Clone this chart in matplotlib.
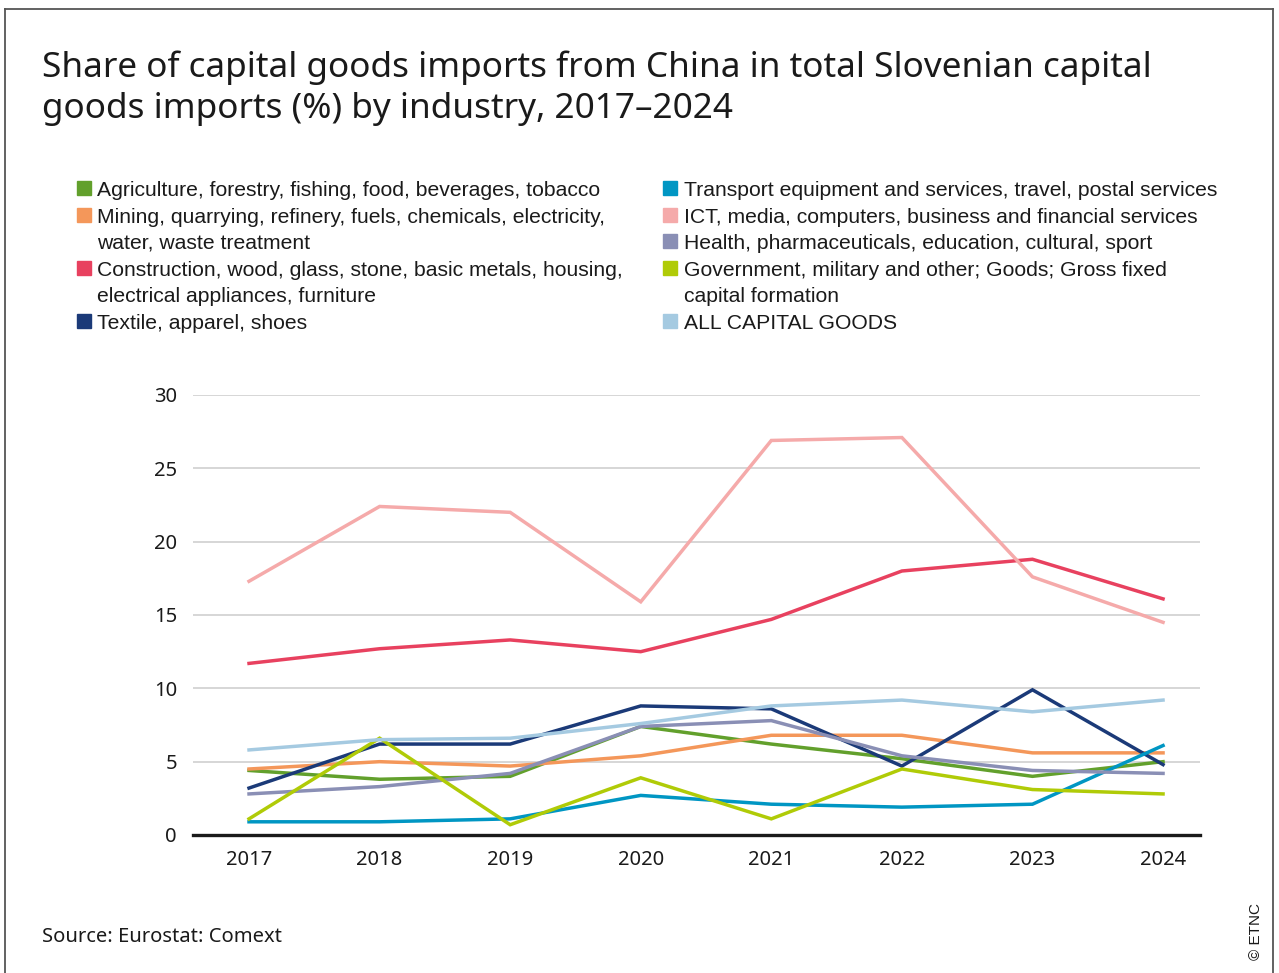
import matplotlib.pyplot as plt
from matplotlib.lines import Line2D
from matplotlib.patches import Rectangle

# share of capital goods imports from China, % of total Slovenian imports
years = [2017, 2018, 2019, 2020, 2021, 2022, 2023, 2024]
agriculture = [4.4, 3.8, 4.0, 7.4, 6.2, 5.2, 4.0, 5.0]
mining = [4.5, 5.0, 4.7, 5.4, 6.8, 6.8, 5.6, 5.6]
construction = [11.7, 12.7, 13.3, 12.5, 14.7, 18.0, 18.8, 16.1]
textile = [3.2, 6.2, 6.2, 8.8, 8.6, 4.7, 9.9, 4.8]
transport = [0.9, 0.9, 1.1, 2.7, 2.1, 1.9, 2.1, 6.1]
ict = [17.3, 22.4, 22.0, 15.9, 26.9, 27.1, 17.6, 14.5]
health = [2.8, 3.3, 4.2, 7.4, 7.8, 5.4, 4.4, 4.2]
government = [1.1, 6.6, 0.7, 3.9, 1.1, 4.5, 3.1, 2.8]
all_goods = [5.8, 6.5, 6.6, 7.6, 8.8, 9.2, 8.4, 9.2]

labels = [
    'Agriculture, forestry, fishing, food, beverages, tobacco',
    'Mining, quarrying, refinery, fuels, chemicals, electricity,\nwater, waste treatment',
    'Construction, wood, glass, stone, basic metals, housing,\nelectrical appliances, furniture',
    'Textile, apparel, shoes',
    'Transport equipment and services, travel, postal services',
    'ICT, media, computers, business and financial services',
    'Health, pharmaceuticals, education, cultural, sport',
    'Government, military and other; Goods; Gross fixed\ncapital formation',
    'ALL CAPITAL GOODS',
]
series = [agriculture, mining, construction, textile, transport,
          ict, health, government, all_goods]
colors = ['#62a02c', '#f4975a', '#e8415f', '#1b3a78', '#0096c3',
          '#f5aaaa', '#8a8fb5', '#b0cb07', '#a5cae1']
yticks = [0, 5, 10, 15, 20, 25, 30]

W, H = 1279, 973
TITLE_FONT = 'Noto Sans'
LEGEND_FONT = 'Liberation Sans'


def fy(px):
    # pixel row from the top -> figure fraction
    return 1 - px / H


fig = plt.figure(figsize=(W / 100, H / 100), dpi=100)

# outer frame (left, top, right)
for xs, ys in [([5 / W, 5 / W], [0, fy(9)]),
               ([5 / W, 1273 / W], [fy(9), fy(9)]),
               ([1273 / W, 1273 / W], [fy(9), 0])]:
    fig.add_artist(Line2D(xs, ys, color='#555555', lw=1.3))

fig.text(42 / W, fy(77), 'Share of capital goods imports from China in total Slovenian capital',
         fontsize=25.3, family=TITLE_FONT, color='#1a1a1a', va='baseline')
fig.text(42 / W, fy(118), 'goods imports (%) by industry, 2017\u20132024',
         fontsize=25.3, family=TITLE_FONT, color='#1a1a1a', va='baseline')

# legend, two columns, rows counted in text lines
row_h = 26.6
first_base = 196
col_x = {0: (77, 97), 1: (663, 684)}
row = {0: 0, 1: 0}
for i, (lab, c) in enumerate(zip(labels, colors)):
    col = 0 if i < 4 else 1
    mx, tx = col_x[col]
    base = first_base + row[col] * row_h
    fig.add_artist(Rectangle((mx / W, fy(base - 1)), 14 / W, 14 / H,
                             color=c, transform=fig.transFigure))
    for j, line in enumerate(lab.split('\n')):
        fig.text(tx / W, fy(base + j * row_h), line, fontsize=15.2,
                 family=LEGEND_FONT, color='#1a1a1a', va='baseline')
    row[col] += len(lab.split('\n'))

ax = fig.add_axes([193 / W, fy(835), (1200 - 193) / W, (835 - 395) / H])
for vals, c in zip(series, colors):
    ax.plot(years, vals, color=c, lw=2.5, solid_joinstyle='miter', zorder=3)

ax.set_ylim(0, 30)
ax.set_xlim(2016.571, 2024.283)
ax.set_yticks(yticks)
ax.set_xticks(years)
ax.grid(axis='y', color='#cccccc', lw=1.1)
ax.set_axisbelow(True)
for s in ['top', 'right', 'left']:
    ax.spines[s].set_visible(False)
ax.spines['bottom'].set_color('#1a1a1a')
ax.spines['bottom'].set_linewidth(2.4)
ax.spines['bottom'].set_zorder(4)
ax.tick_params(axis='both', length=0, labelsize=14.5, colors='#1a1a1a')
ax.tick_params(axis='y', pad=11.5)
ax.tick_params(axis='x', pad=11)
for t in ax.get_xticklabels() + ax.get_yticklabels():
    t.set_family(TITLE_FONT)

fig.text(42 / W, fy(942), 'Source: Eurostat: Comext', fontsize=14.5,
         family=TITLE_FONT, color='#1a1a1a', va='baseline')
fig.text(1256 / W, fy(932), '\u00a9 ETNC', fontsize=11, family=LEGEND_FONT,
         color='#1a1a1a', rotation=90, ha='center', va='center')

fig.savefig('out.png', dpi=100)
